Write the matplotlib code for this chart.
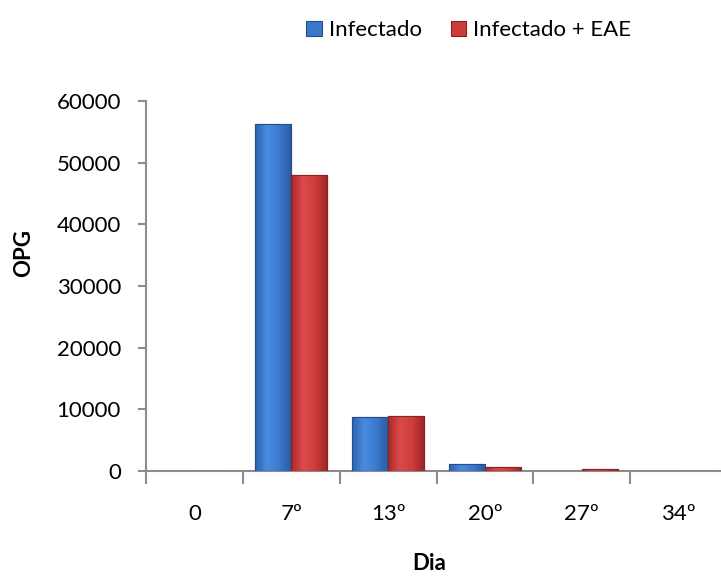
import matplotlib.pyplot as plt
import numpy as np
from matplotlib.colors import LinearSegmentedColormap

days = ["0", "7º", "13º", "20º", "27º", "34º"]
infectado = [0, 56300, 8700, 1100, 0, 0]
infectado_eae = [0, 48000, 8900, 650, 300, 0]

plt.rcParams["font.family"] = ["Lato", "DejaVu Sans"]

AXIS_GRAY = "#8c8c8c"

fig = plt.figure(figsize=(7.21, 5.79), dpi=100)
ax = fig.add_axes([0.2025, 0.1865, 0.806, 0.639])

x = np.arange(len(days))
w = 0.37
blue = ax.bar(x - w / 2, infectado, w, color="#3b78c9", edgecolor="#244f8c",
              linewidth=0.8, label="Infectado", zorder=3)
red = ax.bar(x + w / 2, infectado_eae, w, color="#cd3b3b", edgecolor="#8a2222",
             linewidth=0.8, label="Infectado + EAE", zorder=3)

# shaded fill so the bars look rounded, clipped to each rectangle
shades = {
    "blue": LinearSegmentedColormap.from_list("b", ["#2c62ad", "#4a8be0", "#3c7bcf", "#2a5da4"]),
    "red": LinearSegmentedColormap.from_list("r", ["#a92a2a", "#dc4a4a", "#cf3e3e", "#a22626"]),
}
grad = np.linspace(0, 1, 64).reshape(1, -1)
for bars, key in ((blue, "blue"), (red, "red")):
    for p in bars:
        if p.get_height() <= 0:
            continue
        x0, h, bw = p.get_x(), p.get_height(), p.get_width()
        im = ax.imshow(grad, cmap=shades[key], aspect="auto",
                       extent=(x0, x0 + bw, 0, h), zorder=3.5)
        im.set_clip_path(p)
        ax.bar(x0, h, bw, align="edge", fill=False,
               edgecolor=p.get_edgecolor(), linewidth=0.8, zorder=4)

ax.set_xlim(-0.5, len(days) - 0.5)
ax.set_ylim(0, 60000)
ax.set_yticks(range(0, 60001, 10000))
ax.set_xticks(np.arange(len(days) + 1) - 0.5, minor=False)
ax.set_xticklabels([])
ax.set_xticks(x, minor=True)
ax.set_xticklabels(days, minor=True)

ax.tick_params(axis="x", which="major", length=9, color=AXIS_GRAY, width=1.5)
ax.tick_params(axis="x", which="minor", length=0, pad=24, labelsize=16)
ax.tick_params(axis="y", length=6, color=AXIS_GRAY, width=1.5, pad=12, labelsize=16)

for side in ("top", "right"):
    ax.spines[side].set_visible(False)
for side in ("left", "bottom"):
    ax.spines[side].set_color(AXIS_GRAY)
    ax.spines[side].set_linewidth(1.5)

ax.set_ylabel("OPG", fontsize=16, fontweight="bold")
ax.yaxis.set_label_coords((34 - 146) / (0.806 * 721), 0.589)
ax.set_xlabel("Dia", fontsize=16, fontweight="bold", va="center")
ax.xaxis.set_label_coords((429 - 146) / (0.806 * 721), -0.25)

fig.legend(loc="center", bbox_to_anchor=(0.650, 0.948), ncol=2, frameon=False,
           fontsize=16, handlelength=0.7, handleheight=0.7, handletextpad=0.3,
           columnspacing=1.3)

fig.savefig("out.png", dpi=100)
